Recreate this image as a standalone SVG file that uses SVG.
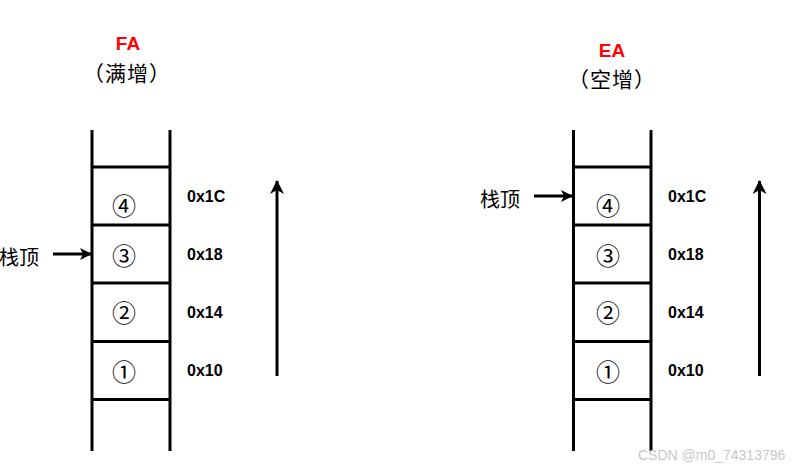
<svg xmlns="http://www.w3.org/2000/svg" width="798" height="469" viewBox="0 0 798 469">
<style>
.ln{stroke:#000;stroke-width:3;fill:none}
.title{font-family:"Liberation Sans",Arial,sans-serif;font-weight:bold;font-size:19px;fill:#f00;text-anchor:middle;dominant-baseline:central}
.sub{font-family:"Noto Sans CJK SC",sans-serif;font-size:21px;letter-spacing:1px;fill:#000;text-anchor:middle;dominant-baseline:central}
.cell{font-family:"Noto Sans CJK SC",sans-serif;font-size:24px;fill:#000;text-anchor:middle;dominant-baseline:central}
.addr{font-family:"Liberation Sans",Arial,sans-serif;font-weight:bold;font-size:16px;fill:#000;dominant-baseline:central}
.lbl{font-family:"Noto Sans CJK SC",sans-serif;font-size:20px;fill:#000;dominant-baseline:central}
.wm{font-family:"Liberation Sans",Arial,sans-serif;font-size:14px;fill:#c8c8c8}
</style>
<defs>
<marker id="ah" markerWidth="12" markerHeight="12" viewBox="0 0 12 12" refX="11" refY="6" orient="auto" markerUnits="userSpaceOnUse">
<path d="M0,0 L12,6 L0,12 L3,6 Z" fill="#000"/>
</marker>
<marker id="ahs" markerWidth="14" markerHeight="14" viewBox="0 0 14 14" refX="13" refY="7" orient="auto" markerUnits="userSpaceOnUse">
<path d="M0,0 L14,7 L0,14 L4,7 Z" fill="#000"/>
</marker>
</defs>

<g id="fa-title">
<text class="title" x="128" y="43">FA</text>
<text class="sub" x="127" y="72">（满增）</text>
</g>
<g id="fa-stack">
<path class="ln" d="M92,130 V451 M170,130 V451 M92,167 H170 M92,225 H170 M92,283 H170 M92,341.5 H170 M92,399.5 H170"/>
<text class="cell" x="124" y="204">④</text>
<text class="cell" x="124" y="254">③</text>
<text class="cell" x="124" y="311">②</text>
<text class="cell" x="124" y="370">①</text>
</g>
<g id="fa-addr">
<text class="addr" x="187" y="196">0x1C</text>
<text class="addr" x="187" y="254">0x18</text>
<text class="addr" x="187" y="312">0x14</text>
<text class="addr" x="187" y="370">0x10</text>
</g>
<g id="fa-top">
<text class="lbl" x="-1" y="256">栈顶</text>
</g>

<g id="ea-title">
<text class="title" x="612" y="50">EA</text>
<text class="sub" x="612" y="78">（空增）</text>
</g>
<g id="ea-stack">
<path class="ln" d="M573.5,130 V451 M651,130 V451 M573.5,167 H651 M573.5,225 H651 M573.5,283 H651 M573.5,341.5 H651 M573.5,399.5 H651"/>
<text class="cell" x="608" y="204">④</text>
<text class="cell" x="608" y="254">③</text>
<text class="cell" x="608" y="311">②</text>
<text class="cell" x="608" y="370">①</text>
</g>
<g id="ea-addr">
<text class="addr" x="668" y="196">0x1C</text>
<text class="addr" x="668" y="254">0x18</text>
<text class="addr" x="668" y="312">0x14</text>
<text class="addr" x="668" y="370">0x10</text>
</g>
<g id="ea-top">
<text class="lbl" x="480" y="198">栈顶</text>
</g>

<g id="connectors">
<line class="ln" x1="53" y1="254" x2="91" y2="254" marker-end="url(#ah)"/>
<line class="ln" x1="277" y1="376" x2="277" y2="181" marker-end="url(#ahs)"/>
<line class="ln" x1="534" y1="196" x2="572" y2="196" marker-end="url(#ah)"/>
<line class="ln" x1="759.5" y1="376" x2="759.5" y2="181" marker-end="url(#ahs)"/>
</g>

<text class="wm" x="638" y="460">CSDN @m0_74313796</text>
</svg>
